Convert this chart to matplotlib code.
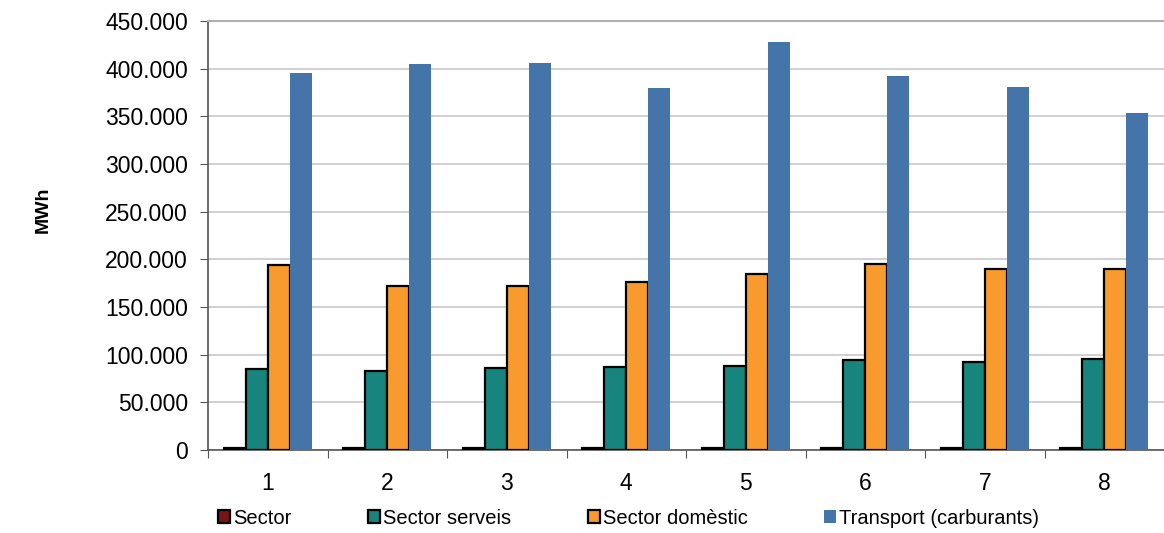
import numpy as np
import matplotlib.pyplot as plt
from matplotlib.ticker import FuncFormatter, FixedLocator

plt.rcParams['font.family'] = ['Liberation Sans', 'DejaVu Sans']

categories = ['1', '2', '3', '4', '5', '6', '7', '8']
sector = [2500, 2500, 2500, 2500, 2500, 2500, 2500, 2500]
serveis = [85000, 83000, 86000, 87000, 88000, 94000, 92000, 95000]
domestic = [194000, 172000, 172000, 176000, 185000, 195000, 190000, 190000]
transport = [395500, 405000, 406000, 379700, 428000, 392500, 380800, 353500]

series = [('Sector', sector, '#7a1416', 'black'),
          ('Sector serveis', serveis, '#17847e', 'black'),
          ('Sector domèstic', domestic, '#f89a2e', 'black'),
          ('Transport (carburants)', transport, '#4575a8', 'none')]

fig = plt.figure(figsize=(11.64, 5.33), dpi=100)
ax = fig.add_axes([208/1164, 83/533, 1 - 208/1164, 429/533])

x = np.arange(len(categories))
w = 0.184
for i, (name, vals, col, ec) in enumerate(series):
    ax.bar(x + (i - 1.5) * w, vals, width=w, color=col, edgecolor=ec,
           linewidth=1.6 if ec != 'none' else 0, label=name, zorder=3)

ax.set_xlim(-0.5, len(categories) - 0.5)
ax.set_ylim(0, 450000)
ax.set_yticks(np.arange(0, 450001, 50000))
ax.yaxis.set_major_formatter(FuncFormatter(lambda v, p: f'{int(v):,}'.replace(',', '.')))
ax.grid(axis='y', color='#c8c8c8', linewidth=1.2, zorder=0)

ax.xaxis.set_major_locator(FixedLocator(np.arange(-0.5, len(categories), 1)))
ax.xaxis.set_minor_locator(FixedLocator(x))
ax.set_xticklabels([], minor=False)
ax.set_xticklabels(categories, minor=True)
ax.tick_params(axis='x', which='major', length=6, color='#555555', direction='out')
ax.tick_params(axis='x', which='minor', length=0, pad=16, labelsize=16.5)
ax.tick_params(axis='y', length=5.5, color='#555555', labelsize=16.5, pad=9)

for s in ['left', 'bottom']:
    ax.spines[s].set_color('#555555')
    ax.spines[s].set_linewidth(1.2)
ax.spines['top'].set_color('#b0b0b0')
ax.spines['top'].set_linewidth(1.5)
ax.spines['right'].set_visible(False)

ax.set_ylabel('MWh', fontsize=14, fontweight='bold')
ax.yaxis.set_label_coords(-0.163, 0.56)

fig.legend(loc='center left', bbox_to_anchor=(210/1164, 1 - 518/533), ncol=4,
           frameon=False, fontsize=14.5, handlelength=0.6, handleheight=0.6,
           handletextpad=0.15, columnspacing=3.8, borderaxespad=0)

fig.savefig('out.png', dpi=100)
